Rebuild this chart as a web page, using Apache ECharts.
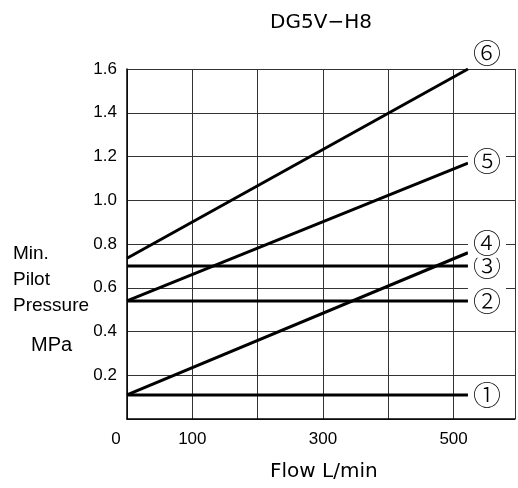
<!DOCTYPE html>
<html>
<head>
<meta charset="utf-8">
<script src="https://cdn.jsdelivr.net/npm/echarts@6/dist/echarts.min.js"></script>
<style>
  html, body { margin: 0; padding: 0; background: #fff; }
  #chart { width: 518px; height: 488px; }
</style>
</head>
<body>
<div id="chart"></div>
<script>
// 流量 (L/min) 两个端点
var flow = [0, 522];
// 各曲线最小先导压力 (MPa)
var curve1 = [0.11, 0.11];
var curve2 = [0.54, 0.54];
var curve3 = [0.70, 0.70];
var curve4 = [0.11, 0.76];
var curve5 = [0.54, 1.17];
var curve6 = [0.735, 1.60];
var curveNames = ['①', '②', '③', '④', '⑤', '⑥'];
var xTickLabels = ['0', '100', '300', '500'];

var chart = echarts.init(document.getElementById('chart'));

function pairs(vals) {
	return flow.map(function(x, i) { return [x, vals[i]]; });
}

// 每条线的端点标注偏移
var labelOffsets = [[0, 0], [0, 0], [0, 0], [0, -9], [0, -2], [0, -16]];

var series = [curve1, curve2, curve3, curve4, curve5, curve6].map(function(vals, i) {
	return {
		type: 'line',
		data: pairs(vals),
		showSymbol: false,
		lineStyle: { color: '#000', width: 3 },
		endLabel: {
			show: true,
			formatter: curveNames[i],
			distance: 0,
			offset: labelOffsets[i],
			fontFamily: 'Noto Sans CJK JP',
			fontWeight: 300,
			fontSize: 28,
			color: '#000',
			backgroundColor: '#fff',
			padding: [0, 5]
		}
	};
});

option = {
	backgroundColor: '#fff',
	animation: false,
	title: {
		text: 'DG5V−H8',
		left: 316,
		top: 8,
		textAlign: 'center',
		textStyle: { fontFamily: 'DejaVu Sans', fontSize: 20, fontWeight: 'normal', color: '#000' }
	},
	grid: { left: 127, top: 69, right: 0, bottom: 69 },
	xAxis: {
		type: 'value',
		min: 0,
		max: 594,
		interval: 100,
		axisLine: { lineStyle: { color: '#000', width: 1.5 } },
		axisTick: { show: false },
		splitLine: { show: true, lineStyle: { color: '#333', width: 1 } },
		axisLabel: {
			margin: 12,
			fontFamily: 'Liberation Sans Narrow, Liberation Sans, sans-serif',
			fontSize: 17,
			color: '#000',
			formatter: function(v) {
				var s = String(v);
				if (xTickLabels.indexOf(s) < 0) return '';
				return v === 0 ? '{z|0}' : s;
			},
			rich: { z: { padding: [0, 22, 6, 0], fontSize: 17, fontFamily: 'Liberation Sans Narrow, Liberation Sans, sans-serif' } }
		}
	},
	yAxis: {
		type: 'value',
		min: 0,
		max: 1.6,
		interval: 0.2,
		axisLine: { show: true, lineStyle: { color: '#000', width: 1.5 } },
		axisTick: { show: false },
		splitLine: { show: true, lineStyle: { color: '#333', width: 1 } },
		axisLabel: {
			margin: 10,
			fontFamily: 'Liberation Sans Narrow, Liberation Sans, sans-serif',
			fontSize: 17,
			color: '#000',
			formatter: function(v) { return v === 0 ? '' : v.toFixed(1); }
		}
	},
	graphic: [
		{
			type: 'text', left: 13, top: 241,
			style: { text: 'Min.\nPilot\nPressure', font: '19px "Liberation Sans", sans-serif', lineHeight: 26, fill: '#000' }
		},
		{
			type: 'text', left: 31, top: 335,
			style: { text: 'MPa', font: '20px "Liberation Sans", sans-serif', fill: '#000' }
		},
		{
			type: 'text', left: 270, top: 462,
			style: { text: 'Flow L/min', font: '20px "DejaVu Sans", sans-serif', fill: '#000' }
		}
	],
	series: series
};

chart.setOption(option);
</script>
</body>
</html>
